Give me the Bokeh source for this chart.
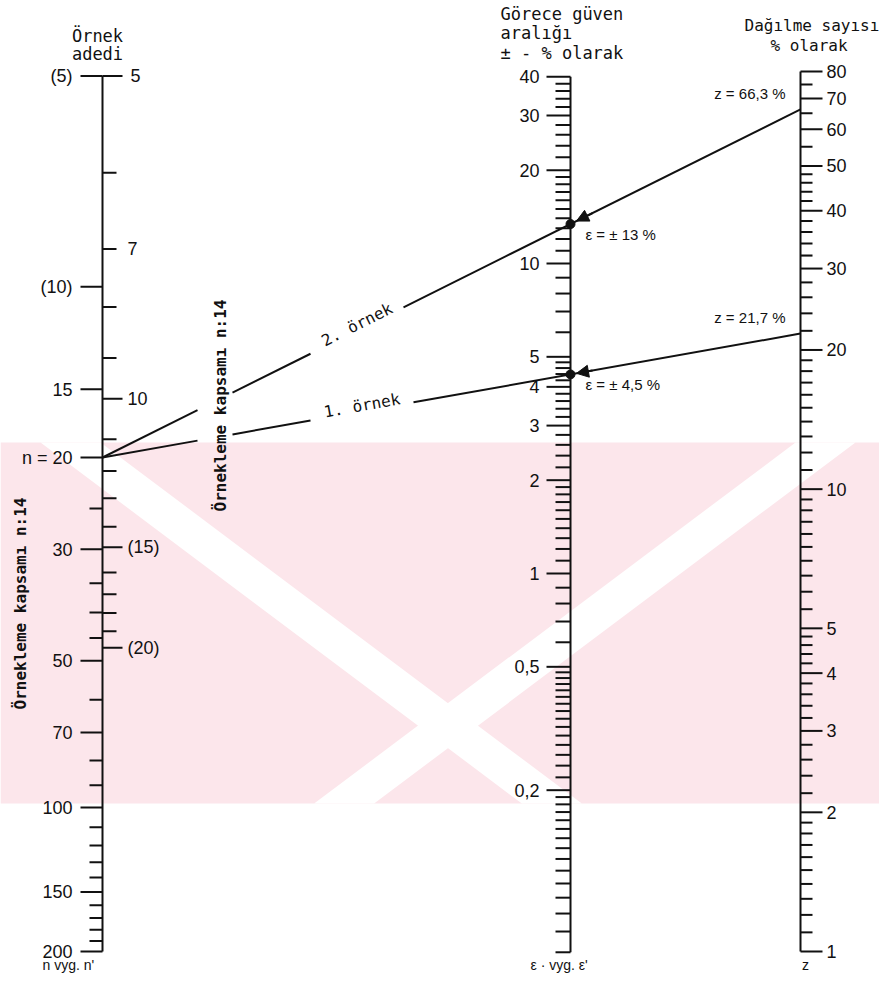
import math
from bokeh.plotting import figure
from bokeh.models import Range1d, Arrow, NormalHead
from bokeh.core.properties import value
from bokeh.embed import file_html
from bokeh.resources import INLINE

# ---------------- data ----------------
# left scale: sample size n (ticks on the left side of the line)
n_major = [5, 10, 15, 20, 30, 50, 70, 100, 150, 200]
n_major_labels = ["(5)", "(10)", "15", "n = 20", "30", "50", "70", "100", "150", "200"]
n_minor = [25, 35, 40, 45, 60, 80, 90, 110, 120, 130, 140, 160, 170, 180, 190]

# left scale: n' (ticks on the right side of the line) and the n reading opposite each tick
np_ticks = [5, 6, 7, 8, 9, 10, 11, 12, 13, 14, 15, 16, 17, 18, 19, 20]
np_at_n = [5.0, 6.7, 8.7, 10.8, 13.2, 15.6, 18.5, 21.2, 23.9, 27.1, 29.7, 33.3, 36.8, 40.1, 43.6, 47.1]
np_major = [5, 7, 10, 15, 20]
np_major_labels = ["5", "7", "10", "(15)", "(20)"]

# middle scale: relative confidence interval epsilon (+/- %)
e_major = [40, 30, 20, 10, 5, 4, 3, 2, 1, 0.5, 0.2]
e_major_labels = ["40", "30", "20", "10", "5", "4", "3", "2", "1", "0,5", "0,2"]
e_minor = [38, 36, 34, 32, 28, 26, 24, 22,
           19, 18, 17, 16, 15, 14, 13, 12, 11,
           9, 8, 7, 6,
           4.8, 4.6, 4.4, 4.2, 3.8, 3.6, 3.4, 3.2, 2.8, 2.6, 2.4, 2.2,
           1.9, 1.8, 1.7, 1.6, 1.5, 1.4, 1.3, 1.2, 1.1,
           0.9, 0.8, 0.7, 0.6,
           0.48, 0.46, 0.44, 0.42, 0.40, 0.38, 0.36, 0.34, 0.32, 0.30,
           0.28, 0.26, 0.24, 0.22,
           0.19, 0.18, 0.17, 0.16, 0.15, 0.14, 0.13, 0.12, 0.11, 0.10,
           0.09, 0.08, 0.07, 0.06]

# right scale: coefficient of variation z (%)
z_major = [80, 70, 60, 50, 40, 30, 20, 10, 5, 4, 3, 2, 1]
z_major_labels = ["80", "70", "60", "50", "40", "30", "20", "10", "5", "4", "3", "2", "1"]
z_minor = [75, 65, 55, 48, 46, 44, 42, 38, 36, 34, 32, 28, 26, 24, 22,
           19, 18, 17, 16, 15, 14, 13, 12, 11,
           9.5, 9, 8.5, 8, 7.5, 7, 6.5, 6, 5.5,
           4.8, 4.6, 4.4, 4.2, 3.8, 3.6, 3.4, 3.2, 2.8, 2.6, 2.4, 2.2,
           1.9, 1.8, 1.7, 1.6, 1.5, 1.4, 1.3, 1.2, 1.1]

# worked examples
ex_names = ["2. örnek", "1. örnek"]
ex_n = [20, 20]
ex_z = [66.3, 21.7]
ex_eps = [13, 4.5]
ex_z_labels = ["z = 66,3 %", "z = 21,7 %"]
ex_eps_labels = ["ε = ± 13 %", "ε = ± 4,5 %"]

# ---------------- layout / scale geometry ----------------
W, H = 879, 973
X_N, X_E, X_Z = 102, 570, 800          # positions of the three scales
A = (X_Z - X_E) / (X_Z - X_N)
Y_E10, ME = 263.0, 310.0                # epsilon scale: position of 10, px per decade
MZ = ME / (1 - A)                       # z scale modulus
Y_Z1 = 951.0                            # position of z = 1
MN = ME / A                             # n scale modulus
Y_N20 = 457.0


def t975(df):
    z = 1.959963985
    g1 = (z**3 + z) / 4
    g2 = (5 * z**5 + 16 * z**3 + 3 * z) / 96
    g3 = (3 * z**7 + 19 * z**5 + 17 * z**3 - 15 * z) / 384
    g4 = (79 * z**9 + 776 * z**7 + 1482 * z**5 - 1920 * z**3 - 945 * z) / 92160
    return z + g1 / df + g2 / df**2 + g3 / df**3 + g4 / df**4


def kf(n):
    return t975(n - 0.5) / math.sqrt(n)


def y_n(n):
    return Y_N20 - MN * math.log10(kf(n) / kf(20))


def y_e(e):
    return Y_E10 - ME * math.log10(e / 10.0)


def y_z(z):
    return Y_Z1 - MZ * math.log10(z)


SANS = value("Liberation Sans")
MONO = value("DejaVu Sans Mono")
NUM_FS = "18px"
TYPE_FS = "17px"

p = figure(width=W, height=H, x_range=Range1d(0, W), y_range=Range1d(H, 0),
           output_backend="svg", toolbar_location=None, min_border=0,
           x_axis_location=None, y_axis_location=None)
p.grid.visible = False
p.outline_line_color = None
p.background_fill_color = "white"

# ---------- faint background watermark band ----------
WM_TOP, WM_BOT = 442, 803
p.quad(left=[0], right=[W], top=[WM_TOP], bottom=[WM_BOT], fill_color="#fce6eb", line_color=None)
dy = WM_BOT - WM_TOP
run = dy / 0.75
p.patches(xs=[[40, 100, 100 + run, 40 + run], [855, 795, 795 - run, 855 - run]],
          ys=[[WM_TOP, WM_TOP, WM_BOT, WM_BOT]] * 2, fill_color="white", line_color=None)

LW = 2
INK = "#111111"

# ---------- left scale ----------
p.segment(x0=[X_N], y0=[y_n(n_major[0])], x1=[X_N], y1=[y_n(n_major[-1])], line_width=LW, color=INK)
ymaj = [y_n(v) for v in n_major]
p.segment(x0=[X_N - 22] * len(ymaj), y0=ymaj, x1=[X_N] * len(ymaj), y1=ymaj, line_width=LW, color=INK)
ymin = [y_n(v) for v in n_minor]
p.segment(x0=[X_N - 13] * len(ymin), y0=ymin, x1=[X_N] * len(ymin), y1=ymin, line_width=LW, color=INK)
p.text(x=[X_N - 30] * len(ymaj), y=ymaj, text=n_major_labels, text_font=SANS, text_font_size=NUM_FS,
       text_align="right", text_baseline="middle", text_color=INK)

ynp = [y_n(v) for v in np_at_n]
np_len = [20 if t in (5, 10, 15, 20) else 14 for t in np_ticks]
p.segment(x0=[X_N] * len(ynp), y0=ynp, x1=[X_N + l for l in np_len], y1=ynp, line_width=LW, color=INK)
ynp_lab = [ynp[np_ticks.index(t)] for t in np_major]
np_lab_x = [X_N + 25 if t != 5 else X_N + 28 for t in np_major]
p.text(x=np_lab_x, y=ynp_lab, text=np_major_labels, text_font=SANS, text_font_size=NUM_FS,
       text_align="left", text_baseline="middle", text_color=INK)

# ---------- middle scale ----------
p.segment(x0=[X_E], y0=[y_e(max(e_major))], x1=[X_E], y1=[y_e(min(e_minor))], line_width=LW, color=INK)
yem = [y_e(v) for v in e_major]
p.segment(x0=[X_E - 24] * len(yem), y0=yem, x1=[X_E] * len(yem), y1=yem, line_width=LW, color=INK)
yen = [y_e(v) for v in e_minor]
p.segment(x0=[X_E - 15] * len(yen), y0=yen, x1=[X_E] * len(yen), y1=yen, line_width=LW, color=INK)
p.text(x=[X_E - 31] * len(yem), y=yem, text=e_major_labels, text_font=SANS, text_font_size=NUM_FS,
       text_align="right", text_baseline="middle", text_color=INK)

# ---------- right scale ----------
p.segment(x0=[X_Z], y0=[y_z(max(z_major))], x1=[X_Z], y1=[y_z(min(z_major))], line_width=LW, color=INK)
yzm = [y_z(v) for v in z_major]
p.segment(x0=[X_Z] * len(yzm), y0=yzm, x1=[X_Z + 22] * len(yzm), y1=yzm, line_width=LW, color=INK)
yzn = [y_z(v) for v in z_minor]
p.segment(x0=[X_Z] * len(yzn), y0=yzn, x1=[X_Z + 12] * len(yzn), y1=yzn, line_width=LW, color=INK)
p.text(x=[X_Z + 26] * len(yzm), y=yzm, text=z_major_labels, text_font=SANS, text_font_size=NUM_FS,
       text_align="left", text_baseline="middle", text_color=INK)

# ---------- example lines ----------
GAP_ROT = (197, 232)                    # gap around the rotated caption
LABEL_GAPS = [(310, 403), (310, 413)]   # gaps around the line captions
for i in range(len(ex_n)):
    xa, ya = X_N, y_n(ex_n[i])
    xb, yb = X_Z, y_z(ex_z[i])

    def on_line(x, xa=xa, ya=ya, xb=xb, yb=yb):
        return ya + (yb - ya) * (x - xa) / (xb - xa)

    g0, g1 = LABEL_GAPS[i]
    xs = [xa, GAP_ROT[0], GAP_ROT[1], g0, g1, xb]
    x0s = xs[0::2]
    x1s = xs[1::2]
    p.segment(x0=x0s, y0=[on_line(x) for x in x0s], x1=x1s, y1=[on_line(x) for x in x1s],
              line_width=2, color=INK)
    ang = math.atan2(ya - yb, xb - xa)
    xc = (g0 + g1) / 2
    p.text(x=[xc], y=[on_line(xc) - 6], text=[ex_names[i]], angle=[ang], text_font=MONO,
           text_font_size="16px", text_align="center", text_baseline="middle", text_color=INK)
    # crossing point on the epsilon scale
    ye = on_line(X_E)
    p.scatter(x=[X_E], y=[ye], size=9, color=INK)
    p.add_layout(Arrow(end=NormalHead(size=12, fill_color=INK, line_color=INK),
                       x_start=X_E + 22, y_start=on_line(X_E + 22), x_end=X_E + 6, y_end=on_line(X_E + 6),
                       line_width=2, line_color=INK))
    p.text(x=[X_E + 15], y=[ye + 10], text=[ex_eps_labels[i]], text_font=SANS, text_font_size="15px",
           text_align="left", text_baseline="middle", text_color=INK)
    p.text(x=[X_Z - 15], y=[yb - 16], text=[ex_z_labels[i]], text_font=SANS, text_font_size="15px",
           text_align="right", text_baseline="middle", text_color=INK)

# ---------- captions ----------
p.text(x=[97, 97], y=[35, 53], text=["Örnek", "adedi"], text_font=MONO, text_font_size=TYPE_FS,
       text_align="center", text_baseline="middle", text_color=INK)
p.text(x=[500, 500, 500], y=[13, 32, 52], text=["Görece güven", "aralığı", "± - % olarak"],
       text_font=MONO, text_font_size=TYPE_FS, text_align="left", text_baseline="middle", text_color=INK)
p.text(x=[744, 770], y=[25, 45], text=["Dağılme sayısı", "% olarak"],
       text_font=MONO, text_font_size="16px", text_align="left", text_baseline="middle", text_color=INK)
p.text(x=[20, 220], y=[603, 405], text=["Örnekleme kapsamı n:14", "Örnekleme kapsamı n:14"],
       angle=[math.pi / 2, math.pi / 2], text_font=MONO, text_font_size="16px", text_font_style="bold",
       text_align="center", text_baseline="middle", text_color=INK)
p.text(x=[42, 530], y=[972, 972], text=["n vyg. n'", "ε · vyg. ε'"], text_font=SANS,
       text_font_size="14px", text_align="left", text_baseline="bottom", text_color=INK)
p.text(x=[805], y=[972], text=["z"], text_font=SANS, text_font_size="14px",
       text_align="center", text_baseline="bottom", text_color=INK)

open("out.html", "w").write(file_html(p, INLINE))
